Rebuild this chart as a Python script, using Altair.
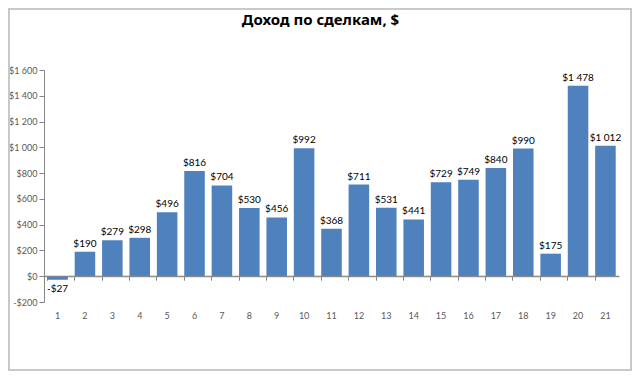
import altair as alt
import pandas as pd

deals = list(range(1, 22))
income = [-27, 190, 279, 298, 496, 816, 704, 530, 456, 992, 368, 711, 531, 441, 729, 749, 840, 990, 175, 1478, 1012]
y_ticks = [-200, 0, 200, 400, 600, 800, 1000, 1200, 1400, 1600]
title_text = ["Доход по сделкам, $"]

df = pd.DataFrame({"deal": deals, "income": income})

W, H = 575, 232
label_expr = "(datum.value < 0 ? '-' : '') + '$' + replace(format(abs(datum.value), ','), ',', ' ')"
calc_expr = "(datum.income < 0 ? '-' : '') + '$' + replace(format(abs(datum.income), ','), ',', ' ')"

xscale = alt.Scale(paddingInner=0.25, paddingOuter=0.12)
yscale = alt.Scale(domain=[-200, 1600], nice=False, zero=False)

base = alt.Chart(df)

bars = base.mark_bar(color="#4F81BD").encode(
    x=alt.X("deal:O", scale=xscale, axis=alt.Axis(
        title=None, orient="bottom", labelAngle=0, domain=False, ticks=False,
        labelColor="#595959", labelFont="Lato", labelFontSize=9, labelPadding=9)),
    y=alt.Y("income:Q", scale=yscale, axis=alt.Axis(
        title=None, orient="left", values=y_ticks, labelExpr=label_expr, grid=False,
        domainColor="#868686", tickColor="#868686", tickSize=5,
        labelColor="#595959", labelFont="Lato", labelFontSize=9, labelPadding=2)),
)

zero_axis = base.mark_bar(opacity=0).encode(
    x=alt.X("deal:O", scale=xscale, axis=alt.Axis(
        title=None, orient="bottom", labels=False, domain=True, ticks=True, bandPosition=0,
        domainColor="#868686", tickColor="#868686", tickSize=4,
        offset=-(H * 200 / 1800))),
    y=alt.Y("income:Q", scale=yscale, axis=None),
)

zero_line = alt.Chart(pd.DataFrame({"z": [0]})).mark_rule(color="#868686", strokeWidth=1).encode(
    y=alt.Y("z:Q", scale=yscale, axis=None)
)

pos_labels = base.transform_filter("datum.income >= 0").transform_calculate(lbl=calc_expr).mark_text(
    baseline="bottom", dy=-3, font="Lato", fontSize=10, color="#000000"
).encode(x=alt.X("deal:O", scale=xscale, axis=None), y=alt.Y("income:Q", scale=yscale, axis=None), text="lbl:N")

neg_labels = base.transform_filter("datum.income < 0").transform_calculate(lbl=calc_expr).mark_text(
    baseline="top", dy=4, font="Lato", fontSize=10, color="#000000"
).encode(x=alt.X("deal:O", scale=xscale, axis=None), y=alt.Y("income:Q", scale=yscale, axis=None), text="lbl:N")

title = alt.Chart(pd.DataFrame({"t": title_text})).mark_text(
    font="Noto Sans", fontSize=15, fontWeight="bold", color="#000000",
    align="center", baseline="middle", clip=False
).encode(x=alt.value(W / 2 - 11), y=alt.value(-50), text="t:N")

border = alt.Chart(pd.DataFrame({"b": [0]})).mark_rect(
    fill=None, stroke="#C8C8C8", strokeWidth=2, clip=False
).encode(x=alt.value(-35), x2=alt.value(W + 12), y=alt.value(-61), y2=alt.value(H + 68))

chart = alt.layer(bars, zero_axis, zero_line, pos_labels, neg_labels, title, border).resolve_axis(
    x="independent", y="independent"
).properties(
    width=W, height=H,
    autosize=alt.AutoSizeParams(type="none"),
    padding={"left": 36, "top": 62, "right": 13, "bottom": 69},
).configure_view(stroke=None)

chart.save("out.html", embed_options={"renderer": "svg", "actions": False})
